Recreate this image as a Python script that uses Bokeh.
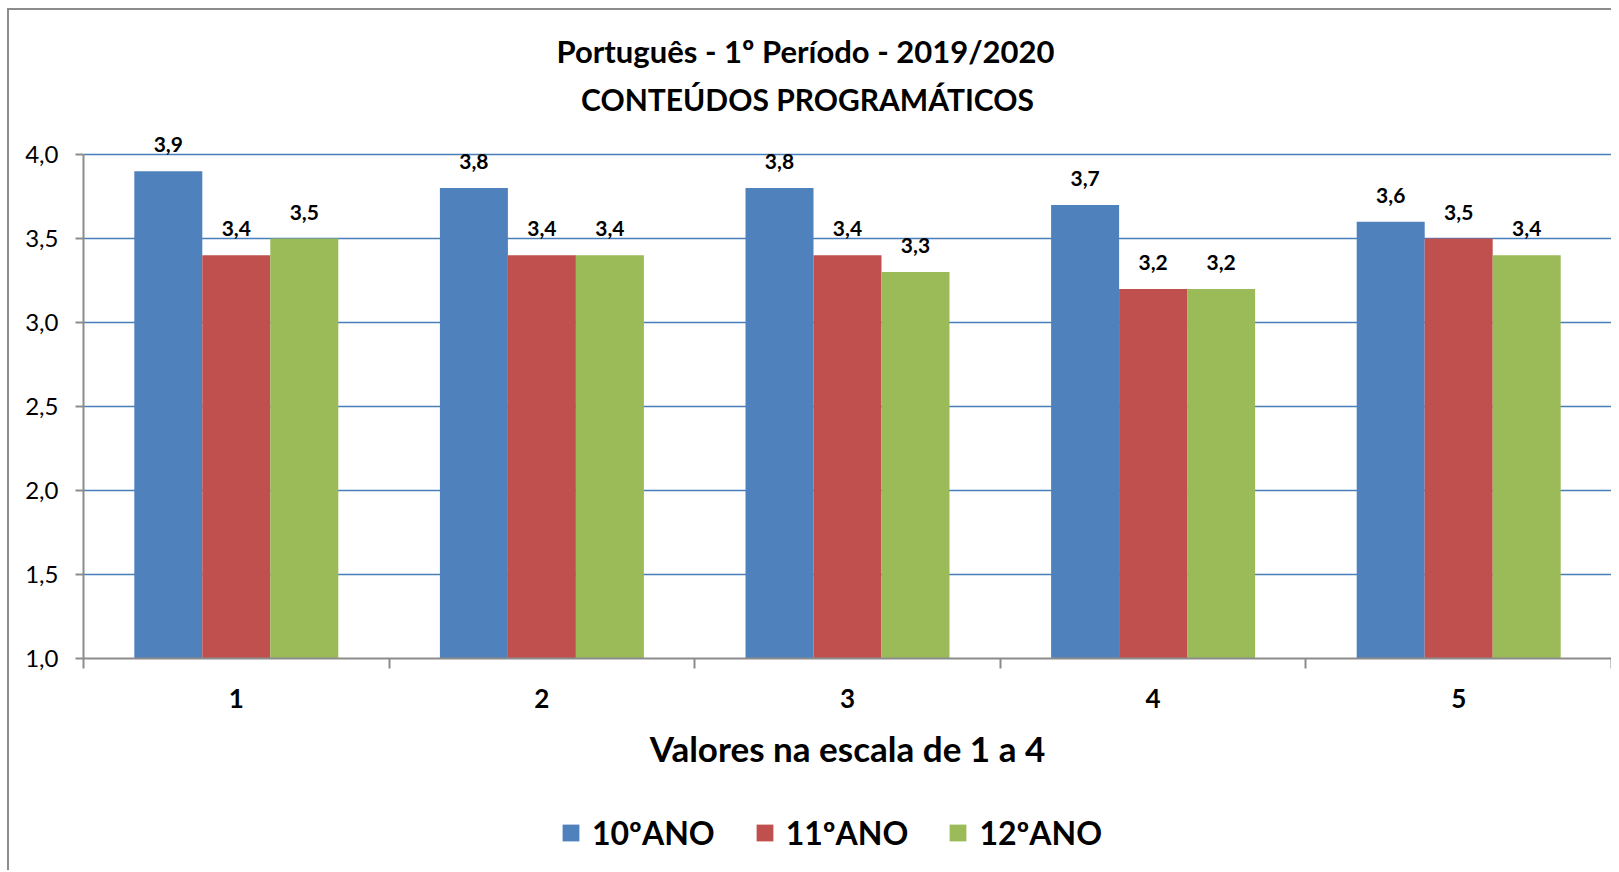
from bokeh.plotting import figure
from bokeh.layouts import column
from bokeh.models import (ColumnDataSource, FixedTicker, CustomJSTickFormatter, Legend,
                          LegendItem, LabelSet, Label, Range1d)
from bokeh.core.properties import value
from bokeh.transform import dodge
from bokeh.embed import file_html
from bokeh.resources import INLINE

# ---- data ----
categories = [1, 2, 3, 4, 5]
tick_labels = ["1", "2", "3", "4", "5"]
series_names = ["10ºANO", "11ºANO", "12ºANO"]
ano10 = [3.9, 3.8, 3.8, 3.7, 3.6]
ano11 = [3.4, 3.4, 3.4, 3.2, 3.5]
ano12 = [3.5, 3.4, 3.3, 3.2, 3.4]
y_ticks = [1.0, 1.5, 2.0, 2.5, 3.0, 3.5, 4.0]

title_line1 = "Português - 1º Período - 2019/2020"
title_line2 = "CONTEÚDOS PROGRAMÁTICOS"
x_label = "Valores na escala de 1 a 4"

colors = ["#4F81BD", "#C0504D", "#9BBB59"]
FONT = "Lato"

src = ColumnDataSource(dict(
    x=categories,
    a10=ano10, a11=ano11, a12=ano12,
    l10=[f"{v:.1f}".replace(".", ",") for v in ano10],
    l11=[f"{v:.1f}".replace(".", ",") for v in ano11],
    l12=[f"{v:.1f}".replace(".", ",") for v in ano12],
))

# layout constants
PX_PER_UNIT = 168
FRAME_W = 1528
FRAME_H = 648
LEFT = 74
y_lo, y_hi = y_ticks[0], y_ticks[-1]
y_top = y_lo + FRAME_H / PX_PER_UNIT   # room above 4,0 for titles / labels

p = figure(frame_width=FRAME_W, frame_height=FRAME_H, output_backend="svg", toolbar_location=None,
           x_range=Range1d(categories[0] - 0.5, categories[-1] + 0.5),
           y_range=Range1d(y_lo, y_top),
           min_border_left=LEFT, min_border_right=0, min_border_top=0,
           min_border_bottom=140, title=None)
p.outline_line_color = None
p.background_fill_color = "white"
p.border_fill_color = "white"

bw = 0.2225
keys = [("a10", "l10", -bw), ("a11", "l11", 0.0), ("a12", "l12", bw)]
for (k, lk, off), c in zip(keys, colors):
    p.vbar(x=dodge("x", off, range=p.x_range), top=k, bottom=y_lo, width=bw,
           source=src, fill_color=c, line_color=None)
    p.add_layout(LabelSet(x=dodge("x", off, range=p.x_range), y=k, text=lk, source=src,
                          text_align="center", text_baseline="alphabetic", y_offset=19,
                          text_font=value(FONT), text_font_style="bold",
                          text_font_size="21px", text_color="black"))

# titles (inside the frame's upper, empty band)
xc = sum(categories) / len(categories)
p.add_layout(Label(x=xc, y=y_hi + (153.3 - 50) / PX_PER_UNIT, x_offset=-42, text=title_line1,
                   text_align="center", text_baseline="alphabetic", text_font=FONT,
                   text_font_style="bold", text_font_size="31px", text_color="black"))
p.add_layout(Label(x=xc, y=y_hi + (153.3 - 98) / PX_PER_UNIT, x_offset=-40, text=title_line2,
                   text_align="center", text_baseline="alphabetic", text_font=FONT,
                   text_font_style="bold", text_font_size="30px", text_color="black"))

# grid
p.xgrid.grid_line_color = None
p.ygrid.ticker = FixedTicker(ticks=y_ticks)
p.ygrid.grid_line_color = "#4A7EBB"
p.ygrid.grid_line_width = 1.6

# y axis
p.yaxis.bounds = (y_lo, y_hi)
p.yaxis.ticker = FixedTicker(ticks=y_ticks, minor_ticks=[])
p.yaxis.formatter = CustomJSTickFormatter(code="return tick.toFixed(1).replace('.', ',');")
p.yaxis.axis_line_color = "#8c8c8c"
p.yaxis.axis_line_width = 2
p.yaxis.major_tick_line_color = "#8c8c8c"
p.yaxis.major_tick_line_width = 2
p.yaxis.major_tick_out = 8
p.yaxis.major_tick_in = 0
p.yaxis.major_label_standoff = 17
p.yaxis.major_label_text_font = FONT
p.yaxis.major_label_text_font_size = "24px"
p.yaxis.major_label_text_color = "black"

# x axis
minor = [c - 0.5 for c in categories] + [categories[-1] + 0.5]
p.xaxis.ticker = FixedTicker(ticks=categories, minor_ticks=minor)
p.xaxis.major_label_overrides = {c: t for c, t in zip(categories, tick_labels)}
p.xaxis.axis_line_color = "#8c8c8c"
p.xaxis.axis_line_width = 2
p.xaxis.major_tick_line_color = None
p.xaxis.major_tick_out = 0
p.xaxis.major_tick_in = 0
p.xaxis.minor_tick_line_color = "#8c8c8c"
p.xaxis.minor_tick_line_width = 2
p.xaxis.minor_tick_out = 10
p.xaxis.minor_tick_in = 0
p.xaxis.major_label_standoff = 20
p.xaxis.major_label_text_font = FONT
p.xaxis.major_label_text_font_style = "bold"
p.xaxis.major_label_text_font_size = "26px"
p.xaxis.major_label_text_color = "black"
p.xaxis.axis_label = x_label
p.xaxis.axis_label_text_font = FONT
p.xaxis.axis_label_text_font_style = "bold"
p.xaxis.axis_label_text_font_size = "35px"
p.xaxis.axis_label_text_color = "black"
p.xaxis.axis_label_standoff = 16

# legend strip (own small figure below the chart; its bars lie outside its view)
p2 = figure(width=LEFT + FRAME_W, height=72, output_backend="svg", toolbar_location=None,
            x_range=p.x_range, y_range=Range1d(y_hi + 10, y_hi + 11),
            x_axis_type=None, y_axis_type=None, min_border=0, title=None)
p2.outline_line_color = None
p2.background_fill_color = "white"
p2.border_fill_color = "white"
p2.xgrid.grid_line_color = None
p2.ygrid.grid_line_color = None
items = []
for (k, lk, off), c, name in zip(keys, colors, series_names):
    r = p2.vbar(x=dodge("x", off, range=p2.x_range), top=k, bottom=y_lo, width=bw,
                source=src, fill_color=c, line_color=None)
    items.append(LegendItem(label=name, renderers=[r]))
legend = Legend(items=items, orientation="horizontal", location=(477, 18),
                label_text_font=FONT, label_text_font_style="bold",
                label_text_font_size="32px", label_text_color="black",
                glyph_width=21, glyph_height=21, label_height=40, label_standoff=11,
                spacing=39, border_line_color=None, background_fill_alpha=0,
                margin=0, padding=0)
p2.add_layout(legend, "center")

layout = column(p, p2, spacing=0)
layout.styles = {"margin-left": "7px", "margin-top": "8px",
                 "border-left": "2px solid #8c8c8c", "border-top": "2px solid #8c8c8c"}

open("out.html", "w").write(file_html(layout, INLINE))
